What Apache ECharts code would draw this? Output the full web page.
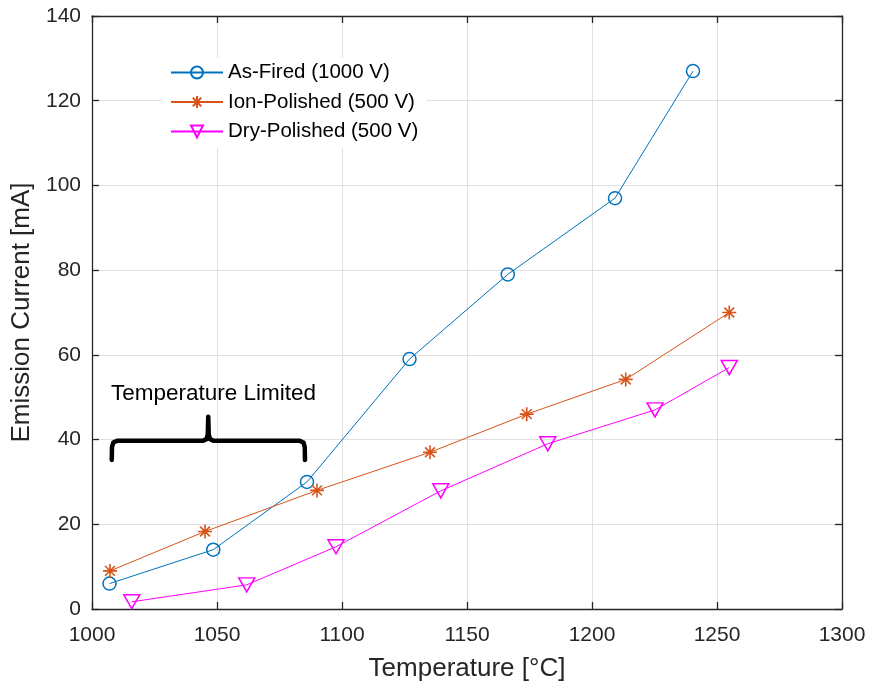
<!DOCTYPE html>
<html><head><meta charset="utf-8">
<script src="https://cdn.jsdelivr.net/npm/echarts@6/dist/echarts.min.js"></script>
<style>html,body{margin:0;padding:0;background:#fff}#c{width:870px;height:682px}</style>
</head><body><div id="c"></div>
<script>
const asFiredT = [1007, 1048.5, 1086, 1127, 1166.3, 1209.2, 1240.4];
const asFiredI = [6, 14, 30, 59, 79, 97, 127];
const ionT = [1007.2, 1045.2, 1090, 1135.2, 1173.9, 1213.5, 1254.9];
const ionI = [9, 18.3, 28, 37, 46, 54.2, 70];
const dryT = [1015.9, 1061.9, 1097.6, 1139.5, 1182.3, 1225.2, 1254.9];
const dryI = [1.7, 5.7, 14.7, 27.9, 39, 47, 57];
const braceT = [1007.9, 1008.0, 1008.5, 1010, 1044.3, 1045.8, 1046.3, 1046.5, 1046.7, 1047.2, 1048.7, 1083.1, 1084.6, 1085.1, 1085.2];
const braceI = [35.2, 38.2, 39.3, 39.7, 39.7, 40.1, 41.2, 45.4, 41.2, 40.1, 39.7, 39.7, 39.3, 38.2, 35.2];
const seriesNames = ['As-Fired (1000 V)', 'Ion-Polished (500 V)', 'Dry-Polished (500 V)'];
const xTicks = [1000, 1050, 1100, 1150, 1200, 1250, 1300];
const yTicks = [0, 20, 40, 60, 80, 100, 120, 140];
const annotationText = 'Temperature Limited';

const zip = (a, b) => a.map((v, i) => [v, b[i]]);
const FONT = '"Liberation Sans", Arial, Helvetica, sans-serif';
const AX = '#262626';
const asterisk = 'path://M10 0L10 20M0 10L20 10M3 3L17 17M3 17L17 3';

const chart = echarts.init(document.getElementById('c'), null, {renderer: 'canvas'});
const baseX = {
  type: 'value', min: xTicks[0], max: xTicks[xTicks.length - 1], interval: 50,
  axisLine: {show: true, onZero: false, lineStyle: {color: AX, width: 1.3}},
  axisTick: {show: true, inside: true, length: 7, lineStyle: {color: AX, width: 1.3}},
};
const baseY = {
  type: 'value', min: yTicks[0], max: yTicks[yTicks.length - 1], interval: 20,
  axisLine: {show: true, onZero: false, lineStyle: {color: AX, width: 1.3}},
  axisTick: {show: true, inside: true, length: 7, lineStyle: {color: AX, width: 1.3}},
};
chart.setOption({
  animation: false,
  backgroundColor: '#fff',
  textStyle: {fontFamily: FONT},
  grid: {left: 92, right: 28, top: 16, bottom: 73, containLabel: false, outerBoundsMode: 'none'},
  legend: {
    left: 162, top: 58, orient: 'vertical', itemGap: 8.5, itemWidth: 52, itemHeight: 15,
    backgroundColor: '#fff', padding: [4, 8, 6, 8],
    textStyle: {fontSize: 20.5, color: '#000', fontFamily: FONT},
    data: seriesNames
  },
  xAxis: [
    Object.assign({}, baseX, {
      position: 'bottom',
      name: 'Temperature [°C]', nameLocation: 'middle', nameGap: 47,
      nameTextStyle: {fontSize: 26, color: AX, fontFamily: FONT},
      axisLabel: {fontSize: 21, color: AX, margin: 16, fontFamily: FONT, formatter: v => String(v)},
      splitLine: {show: true, lineStyle: {color: '#e0e0e0', width: 1}}
    }),
    Object.assign({}, baseX, {position: 'top', axisLabel: {show: false}, splitLine: {show: false}})
  ],
  yAxis: [
    Object.assign({}, baseY, {
      position: 'left',
      name: 'Emission Current [mA]', nameLocation: 'middle', nameGap: 51,
      nameTextStyle: {fontSize: 26, color: AX, fontFamily: FONT},
      axisLabel: {fontSize: 21, color: AX, margin: 11, fontFamily: FONT},
      splitLine: {show: true, lineStyle: {color: '#e0e0e0', width: 1}}
    }),
    Object.assign({}, baseY, {position: 'right', axisLabel: {show: false}, splitLine: {show: false}})
  ],
  graphic: [{
    type: 'text', left: 111, top: 382,
    style: {text: annotationText, fill: '#000', font: '22.5px ' + FONT}
  }],
  series: [
    {
      name: 'brace', type: 'line', data: zip(braceT, braceI), symbol: 'none', silent: true,
      lineStyle: {color: '#000', width: 4.5, cap: 'round', join: 'round'}, z: 1
    },
    {
      name: seriesNames[0], type: 'line', data: zip(asFiredT, asFiredI),
      symbol: 'circle', symbolSize: 13,
      itemStyle: {color: 'rgba(0,0,0,0)', borderColor: '#0072BD', borderWidth: 1.5},
      lineStyle: {color: '#0072BD', width: 1}, z: 3
    },
    {
      name: seriesNames[1], type: 'line', data: zip(ionT, ionI),
      symbol: asterisk, symbolSize: 14,
      itemStyle: {color: 'rgba(0,0,0,0)', borderColor: '#D95319', borderWidth: 1.6},
      lineStyle: {color: '#D95319', width: 1}, z: 3
    },
    {
      name: seriesNames[2], type: 'line', data: zip(dryT, dryI),
      symbol: 'triangle', symbolRotate: 180, symbolSize: [16, 14],
      itemStyle: {color: 'rgba(0,0,0,0)', borderColor: '#FF00FF', borderWidth: 1.5},
      lineStyle: {color: '#FF00FF', width: 1}, z: 3
    }
  ]
});
</script></body></html>
